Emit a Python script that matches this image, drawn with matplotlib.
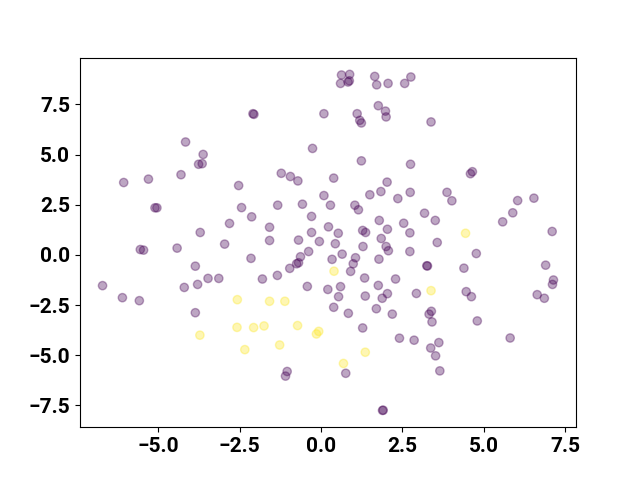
import numpy as np
import matplotlib.pyplot as plt
from matplotlib.ticker import MultipleLocator

plt.rcParams['font.family'] = ['Roboto', 'DejaVu Sans']
plt.rcParams['font.weight'] = 'bold'
plt.rcParams['font.size'] = 15

# cluster 0 (purple)
x0 = [-4.16, -3.62, -3.76, -3.65, -4.30, -5.30, -6.06, -2.53, -5.10, -5.04,
      -2.44, -2.81, -3.71, -5.55, -5.45, -4.42, -2.96, -3.86, -6.71, -4.20,
      -3.79, -3.47, -3.14, -6.10, -5.58, -3.86, 0.63, 0.88, 0.60, 0.83,
      0.87, 1.65, 1.71, 2.06, 2.57, 2.76, -2.09, -2.06, 0.09, 1.11,
      1.19, 1.24, 1.76, 1.98, 2.00, -0.26, 1.24, 2.75, -1.22, -0.94,
      -0.71, 0.39, 2.03, 3.38, 4.65, 4.59, 1.84, 1.50, 2.36, 2.74,
      0.09, 0.29, -0.57, -1.33, -2.13, 1.04, 1.15, -0.29, 1.79, 2.54,
      -1.58, 0.23, -0.29, 0.53, 1.28, 1.37, 2.04, 2.73, -1.58, -0.69,
      -0.05, 0.44, 1.85, 1.29, 2.00, 2.07, -0.38, 0.65, -2.15, -0.63,
      -0.75, -0.69, -0.96, 0.34, 1.06, 0.99, 1.78, 2.73, 0.91, -1.80,
      -1.34, 1.34, 2.29, -0.42, 0.21, 0.60, 1.76, 2.04, 1.88, 0.54,
      1.36, 0.39, 0.84, 1.70, 2.19, 1.28, 2.41, 2.86, 0.76, -1.04,
      -1.09, 1.89, 1.91, 3.87, 4.02, 3.18, 3.51, 3.57, 4.77, 3.25,
      3.27, 4.39, 2.93, 4.46, 4.62, 6.04, 6.54, 5.89, 5.58, 7.10,
      6.90, 7.14, 7.11, 6.64, 6.86, 3.39, 3.32, 3.41, 4.80, 5.81,
      3.62, 3.37, 3.52, 3.65]
y0 = [5.63, 5.01, 4.52, 4.55, 4.00, 3.78, 3.61, 3.46, 2.35, 2.35,
      2.36, 1.57, 1.12, 0.27, 0.24, 0.34, 0.54, -0.56, -1.53, -1.62,
      -1.47, -1.17, -1.17, -2.13, -2.28, -2.88, 8.97, 9.00, 8.55, 8.62,
      8.68, 8.90, 8.48, 8.55, 8.55, 8.87, 7.04, 7.01, 7.04, 7.04,
      6.71, 6.58, 7.44, 7.17, 6.88, 5.31, 4.69, 4.52, 4.07, 3.91,
      3.69, 3.83, 3.63, 6.63, 4.15, 4.05, 3.16, 3.00, 2.81, 3.12,
      2.96, 2.48, 2.53, 2.48, 1.90, 2.48, 2.25, 1.92, 1.72, 1.58,
      1.38, 1.40, 1.12, 1.08, 1.22, 1.12, 1.28, 1.10, 0.72, 0.74,
      0.67, 0.56, 0.82, 0.42, 0.42, 0.21, 0.17, 0.04, -0.17, -0.09,
      -0.44, -0.39, -0.67, -0.22, -0.14, -0.44, -0.21, 0.17, -0.82, -1.20,
      -1.02, -1.15, -1.20, -1.57, -1.72, -1.58, -1.52, -1.93, -2.16, -2.08,
      -2.05, -2.61, -2.91, -2.68, -2.95, -3.64, -4.15, -4.25, -5.90, -5.81,
      -6.04, -7.75, -7.74, 3.12, 2.70, 2.08, 1.72, 0.62, 0.07, -0.54,
      -0.55, -0.66, -1.92, -1.83, -2.08, 2.71, 2.83, 2.10, 1.65, 1.17,
      -0.51, -1.25, -1.47, -1.98, -2.16, -2.81, -2.95, -3.34, -3.29, -4.14,
      -4.37, -4.64, -5.03, -5.78]

# cluster 1 (yellow)
x1 = [-2.57, -2.58, -3.72, -2.34, -2.07, -1.75, -1.58, -1.11, -0.72, -0.14,
      -0.07, -1.27, 1.36, 0.69, 0.40, 4.44, 3.38]
y1 = [-2.23, -3.61, -4.00, -4.72, -3.62, -3.54, -2.31, -2.31, -3.52, -3.94,
      -3.81, -4.49, -4.85, -5.41, -0.81, 1.08, -1.78]

x = np.array(x0 + x1)
y = np.array(y0 + y1)
labels = np.array([0] * len(x0) + [1] * len(x1))

fig, ax = plt.subplots(figsize=(6.4, 4.8), dpi=100)
ax.scatter(x, y, c=labels, cmap='viridis', alpha=0.35)
ax.xaxis.set_major_locator(MultipleLocator(2.5))
ax.yaxis.set_major_locator(MultipleLocator(2.5))
fig.savefig('out.png')
